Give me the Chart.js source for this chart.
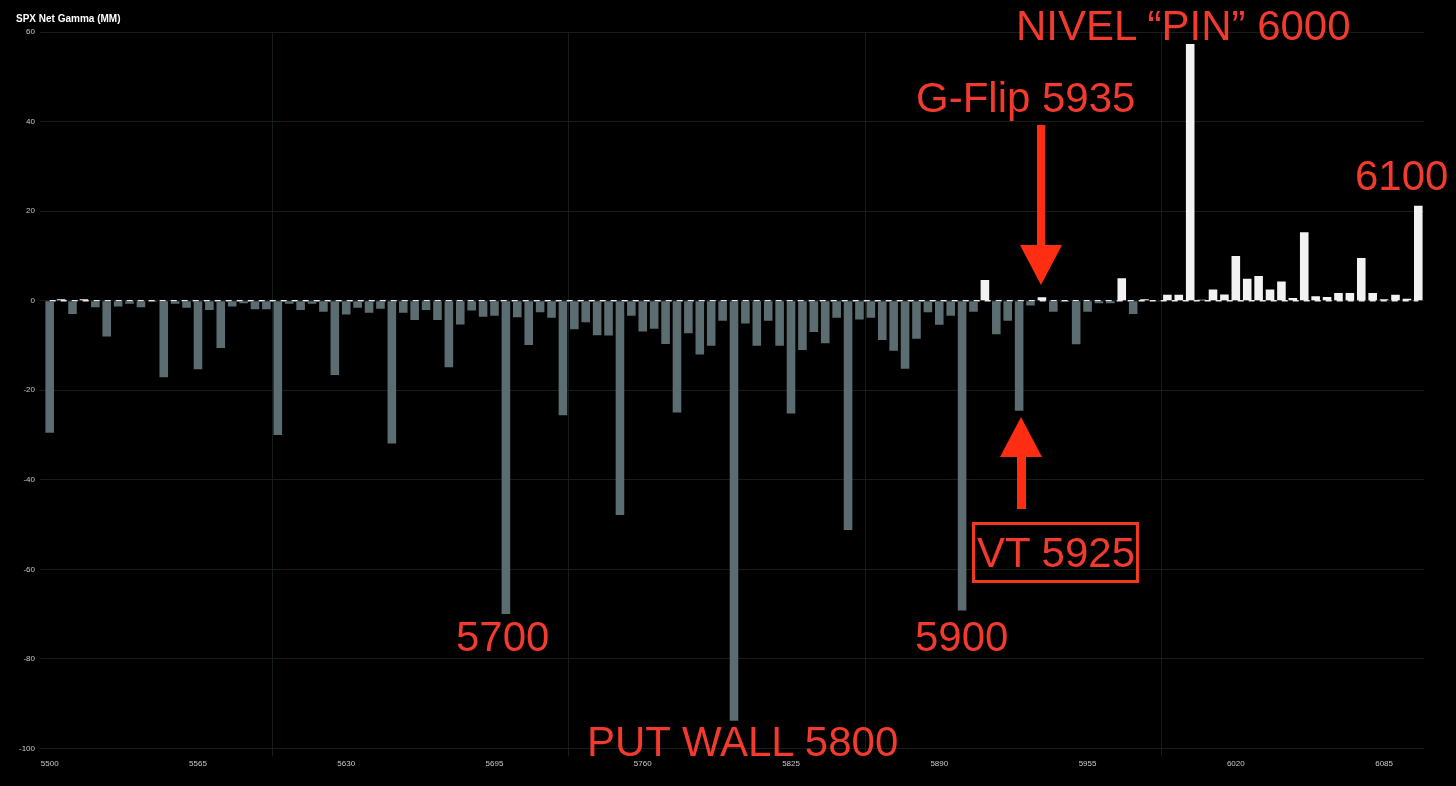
<!DOCTYPE html>
<html>
<head>
<meta charset="utf-8">
<script src="https://cdn.jsdelivr.net/npm/chart.js@4.4.1/dist/chart.umd.min.js"></script>
<style>
  html, body { margin: 0; padding: 0; background: #000; }
  #wrap { position: relative; width: 1456px; height: 786px; overflow: hidden; }
  #chart { position: absolute; left: 0; top: 0; }
  .note { position: absolute; color: #f23b2e; font: 42px/42px 'Liberation Sans', Arial, sans-serif; white-space: nowrap; }
  .box { position: absolute; border: 3px solid #f2381f; box-sizing: border-box; }
  svg { position: absolute; left: 0; top: 0; }
</style>
</head>
<body>
<div id="wrap">
  <canvas id="chart" width="1456" height="786"></canvas>
  <svg width="1456" height="786">
    <rect x="1037" y="125" width="8" height="122" fill="#ff2d12"/>
    <polygon points="1020,245 1062,245 1041,285" fill="#ff2d12"/>
    <polygon points="1000,457 1042,457 1021,417" fill="#ff2d12"/>
    <rect x="1017" y="455" width="9" height="54" fill="#ff2d12"/>
  </svg>
  <div class="note" style="left:1016px;top:5px">NIVEL “PIN” 6000</div>
  <div class="note" style="left:916px;top:77px">G-Flip 5935</div>
  <div class="note" style="left:1355px;top:155px">6100</div>
  <div class="note" style="left:456px;top:616px">5700</div>
  <div class="note" style="left:915px;top:616px">5900</div>
  <div class="note" style="left:587px;top:721px">PUT WALL 5800</div>
  <div class="box" style="left:972px;top:522px;width:167px;height:61px"></div>
  <div class="note" style="left:977px;top:532px">VT 5925</div>
</div>
<script>
/* SPX Net Gamma by strike */

const STRIKES = [
  5500, 5505, 5510, 5515, 5520, 5525, 5530, 5535, 5540, 5545, 5550, 5555, 5560, 5565, 5570, 5575, 5580, 5585, 5590, 5595,
  5600, 5605, 5610, 5615, 5620, 5625, 5630, 5635, 5640, 5645, 5650, 5655, 5660, 5665, 5670, 5675, 5680, 5685, 5690, 5695,
  5700, 5705, 5710, 5715, 5720, 5725, 5730, 5735, 5740, 5745, 5750, 5755, 5760, 5765, 5770, 5775, 5780, 5785, 5790, 5795,
  5800, 5805, 5810, 5815, 5820, 5825, 5830, 5835, 5840, 5845, 5850, 5855, 5860, 5865, 5870, 5875, 5880, 5885, 5890, 5895,
  5900, 5905, 5910, 5915, 5920, 5925, 5930, 5935, 5940, 5945, 5950, 5955, 5960, 5965, 5970, 5975, 5980, 5985, 5990, 5995,
  6000, 6005, 6010, 6015, 6020, 6025, 6030, 6035, 6040, 6045, 6050, 6055, 6060, 6065, 6070, 6075, 6080, 6085, 6090, 6095,
  6100,
];

const NET_GAMMA = [
  -29.5, 0.3, -3.0, 0.3, -1.5, -8.0, -1.3, -0.7, -1.5, -0.3, -17.1, -0.7, -1.6, -15.3, -2.1, -10.6, -1.3, -0.6, -1.9, -1.9,
  -30.0, -0.7, -2.1, -0.7, -2.5, -16.6, -3.1, -1.6, -2.7, -1.8, -31.9, -2.7, -4.3, -2.1, -4.3, -14.9, -5.3, -2.2, -3.6, -3.4,
  -70.0, -3.7, -9.9, -2.6, -3.8, -25.6, -6.4, -4.8, -7.7, -7.8, -47.9, -3.4, -6.9, -6.3, -9.7, -25.0, -7.3, -12.0, -10.1, -4.5,
  -93.8, -5.1, -10.1, -4.5, -10.1, -25.2, -11.0, -7.0, -9.5, -3.8, -51.2, -4.2, -3.8, -8.8, -11.2, -15.2, -8.5, -2.6, -5.4, -3.4,
  -69.2, -2.5, 4.6, -7.5, -4.5, -24.6, -1.1, 0.75, -2.5, -0.3, -9.75, -2.5, -0.6, -0.6, 5.0, -3.0, 0.3, -0.2, 1.3, 1.3,
  57.3, 0.2, 2.5, 1.4, 10.0, 4.9, 5.5, 2.5, 4.3, 0.6, 15.3, 1.0, 0.8, 1.7, 1.7, 9.5, 1.7, 0.3, 1.3, 0.4,
  21.2,
];

// dashed reference line along zero
const ZERO_LINE = STRIKES.map(() => 0);

const Y_MIN = -100, Y_MAX = 60, Y_STEP = 20;
const LABEL_EVERY = 13;        // 5500, 5565, 5630 ...
const GRID_FIRST = 20, GRID_EVERY = 26;

const C = { neg: '#5b6d71', pos: '#f2f2f2', grid: '#161d1d', tick: '#c8c8c8', zero: '#e8e8e8' };

Chart.defaults.font.family = "'Liberation Sans', Arial, sans-serif";
Chart.defaults.color = C.tick;

new Chart(document.getElementById('chart'), {
  data: {
    labels: STRIKES,
    datasets: [
      {
        type: 'bar', order: 0,
        data: NET_GAMMA,
        backgroundColor: NET_GAMMA.map(v => v >= 0 ? C.pos : C.neg),
        barPercentage: 0.94, categoryPercentage: 0.8,
      },
      {
        type: 'line', order: 1,
        data: ZERO_LINE,
        borderColor: C.zero, borderWidth: 1.5, borderDash: [6, 5],
        pointRadius: 0, fill: false,
      },
    ],
  },
  options: {
    responsive: false,
    animation: false,
    layout: { padding: { left: 16, right: 32, top: 0, bottom: 14 } },
    plugins: {
      legend: { display: false },
      tooltip: { enabled: false },
      title: {
        display: true, text: 'SPX Net Gamma (MM)', align: 'start', color: '#ffffff',
        font: { size: 10, weight: 'bold' }, padding: { top: 13, bottom: 7 },
      },
    },
    scales: {
      x: {
        offset: true,
        border: { display: false },
        grid: {
          offset: true, tickLength: 8,
          color: ctx => (ctx.index >= GRID_FIRST && (ctx.index - GRID_FIRST) % GRID_EVERY === 0) ? C.grid : 'rgba(0,0,0,0)',
        },
        ticks: {
          autoSkip: false, maxRotation: 0, padding: 3, font: { size: 8 },
          callback: (v, i) => i % LABEL_EVERY === 0 ? STRIKES[i] : '',
        },
      },
      y: {
        min: Y_MIN, max: Y_MAX,
        border: { display: false },
        grid: { color: C.grid, tickLength: 4 },
        ticks: { stepSize: Y_STEP, padding: 5, font: { size: 8 } },
        afterFit: s => { s.width = 28; },
      },
    },
  },
});
</script>
</body>
</html>
